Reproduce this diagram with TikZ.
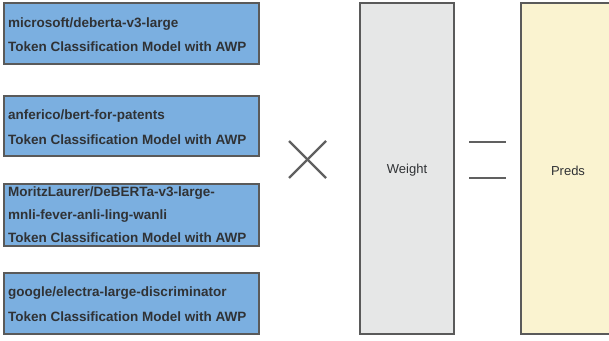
\documentclass[tikz,border=0pt]{standalone}
\usepackage{fontspec}
\setmainfont{Liberation Sans}
\definecolor{bluefill}{HTML}{7BAFE0}
\definecolor{boxedge}{HTML}{5A5A5A}
\definecolor{txt}{HTML}{303235}
\definecolor{greyfill}{HTML}{E6E7E7}
\definecolor{yellowfill}{HTML}{FAF3D0}
\definecolor{signcol}{HTML}{606060}
\begin{document}
\begin{tikzpicture}[x=1pt,y=-1pt,
  modelbox/.style={draw=boxedge,line width=1.2pt,fill=bluefill},
  modeltext/.style={anchor=west,inner sep=0pt,yshift=-1.5pt,font=\bfseries\fontsize{13.5}{15}\selectfont,text=txt},
  tallbox/.style={draw=boxedge,line width=1.2pt},
  plaintext/.style={inner sep=0pt,yshift=-1.5pt,font=\fontsize{13}{15}\selectfont,text=txt},
  signline/.style={draw=signcol,line width=2.2pt}]
\useasboundingbox (0,0) rectangle (609,340);
\clip (0,0) rectangle (609,340);
% model boxes
\draw[modelbox] (4,3) rectangle (259,64);
\node[modeltext] (m1a) at (8,22.5) {microsoft/deberta-v3-large};
\node[modeltext] (m1b) at (8,45.5) {Token Classification Model with AWP};
\draw[modelbox] (4,96) rectangle (259,156);
\node[modeltext] (m2a) at (8,115) {anferico/bert-for-patents};
\node[modeltext] (m2b) at (8,138) {Token Classification Model with AWP};
\draw[modelbox] (4,184) rectangle (259,246);
\node[modeltext] (m3a) at (8,191.5) {MoritzLaurer/DeBERTa-v3-large-};
\node[modeltext] (m3b) at (8,214.5) {mnli-fever-anli-ling-wanli};
\node[modeltext] (m3c) at (8,236.5) {Token Classification Model with AWP};
\draw[modelbox] (4,273) rectangle (259,334);
\node[modeltext] (m4a) at (8,292) {google/electra-large-discriminator};
\node[modeltext] (m4b) at (8,315.5) {Token Classification Model with AWP};
% times sign
\coordinate (x1) at (289,141);
\coordinate (x2) at (326,178);
\coordinate (x3) at (289,178);
\coordinate (x4) at (326,141);
\draw[signline] (x1) -- (x2);
\draw[signline] (x3) -- (x4);
% weight
\draw[tallbox,fill=greyfill] (360,3) rectangle (454,334);
\node[plaintext] (w) at (407,169) {Weight};
% equals sign
\coordinate (e1) at (469,142);
\coordinate (e2) at (506,142);
\coordinate (e3) at (469,178);
\coordinate (e4) at (506,178);
\draw[signline,line width=1.6pt] (e1) -- (e2);
\draw[signline,line width=1.6pt] (e3) -- (e4);
% preds
\draw[tallbox,fill=yellowfill] (521,3) rectangle (640,334);
\node[plaintext] (p) at (568,169) {Preds};
\end{tikzpicture}
\end{document}
